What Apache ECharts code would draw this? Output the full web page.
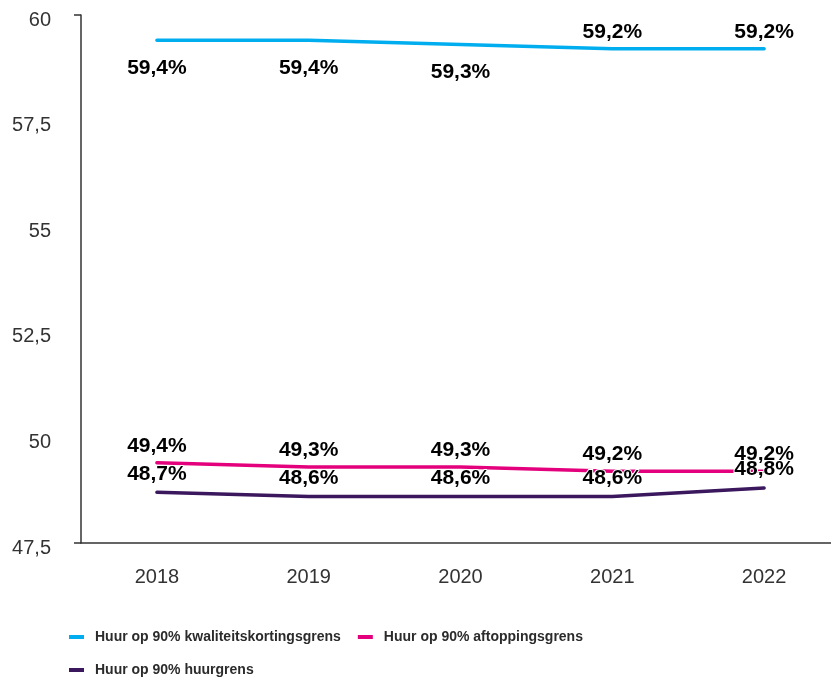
<!DOCTYPE html>
<html>
<head>
<meta charset="utf-8">
<script src="https://cdn.jsdelivr.net/npm/echarts@6/dist/echarts.min.js"></script>
<style>
  html, body { margin: 0; padding: 0; background: #fff; }
  #chart { width: 831px; height: 681px; }
</style>
</head>
<body>
<div id="chart"></div>
<script>
var years = ['2018', '2019', '2020', '2021', '2022'];
var kwaliteit = [59.4, 59.4, 59.3, 59.2, 59.2];
var aftopping = [49.4, 49.3, 49.3, 49.2, 49.2];
var huurgrens = [48.7, 48.6, 48.6, 48.6, 48.8];
var yTicks = [47.5, 50, 52.5, 55, 57.5, 60];

var names = [
  'Huur op 90% kwaliteitskortingsgrens',
  'Huur op 90% aftoppingsgrens',
  'Huur op 90% huurgrens'
];
var blue = '#00aeef';
var pink = '#e4007c';
var purple = '#3b175e';
var font = "'Liberation Sans', Arial, sans-serif";

function fmt(v) {
  return String(v).replace('.', ',');
}

function makeLabel(distance) {
  return {
    show: true,
    position: 'top',
    distance: distance,
    color: '#000',
    fontFamily: font,
    fontWeight: 'bold',
    fontSize: 21,
    textBorderColor: '#fff',
    textBorderWidth: 2,
    formatter: function (p) { return fmt(p.value) + '%'; }
  };
}

// blauwe lijn: eerste drie labels onder de lijn
var blueData = kwaliteit.map(function (v, i) {
  if (i < 3) {
    return { value: v, label: { position: 'bottom', distance: 17 } };
  }
  return v;
});

function lineSeries(name, data, color, distance) {
  return {
    type: 'line',
    name: name,
    data: data,
    symbol: 'circle',
    symbolSize: 0.1,
    showSymbol: true,
    smooth: false,
    lineStyle: { color: color, width: 3.5, cap: 'round', join: 'round' },
    itemStyle: { color: color },
    label: makeLabel(distance),
    z: 3
  };
}

var legendText = {
  color: '#2b2b2b',
  fontFamily: font,
  fontWeight: 'bold',
  fontSize: 14,
  padding: [0, 0, 0, 6]
};

var chart = echarts.init(document.getElementById('chart'));
chart.setOption({
  animation: false,
  grid: {
    left: 81,
    top: 15,
    width: 759,
    bottom: 138,
    containLabel: false,
    outerBoundsMode: 'none'
  },
  legend: [{
    left: 64,
    top: 625,
    icon: 'rect',
    itemWidth: 15,
    itemHeight: 4,
    itemGap: 17,
    data: [names[0], names[1]],
    textStyle: legendText
  }, {
    left: 64,
    top: 658,
    icon: 'rect',
    itemWidth: 15,
    itemHeight: 4,
    data: [names[2]],
    textStyle: legendText
  }],
  xAxis: {
    type: 'category',
    data: years,
    boundaryGap: true,
    axisLine: { lineStyle: { color: '#333', width: 1.5 } },
    axisTick: { show: false },
    axisLabel: { color: '#333', fontSize: 20, fontFamily: font, margin: 24 }
  },
  yAxis: {
    type: 'value',
    min: yTicks[0],
    max: yTicks[yTicks.length - 1],
    interval: 2.5,
    axisLine: { show: true, lineStyle: { color: '#333', width: 1.5 } },
    axisTick: {
      show: true,
      length: 7,
      customValues: [yTicks[0], yTicks[yTicks.length - 1]],
      lineStyle: { color: '#333', width: 1.5 }
    },
    splitLine: { show: false },
    axisLabel: {
      color: '#333',
      fontSize: 20,
      fontFamily: font,
      margin: 30,
      verticalAlign: 'top',
      lineHeight: 10,
      formatter: function (v) { return fmt(v); }
    }
  },
  series: [
    lineSeries(names[0], blueData, blue, 6),
    lineSeries(names[1], aftopping, pink, 6),
    lineSeries(names[2], huurgrens, purple, 8)
  ]
});
</script>
</body>
</html>
